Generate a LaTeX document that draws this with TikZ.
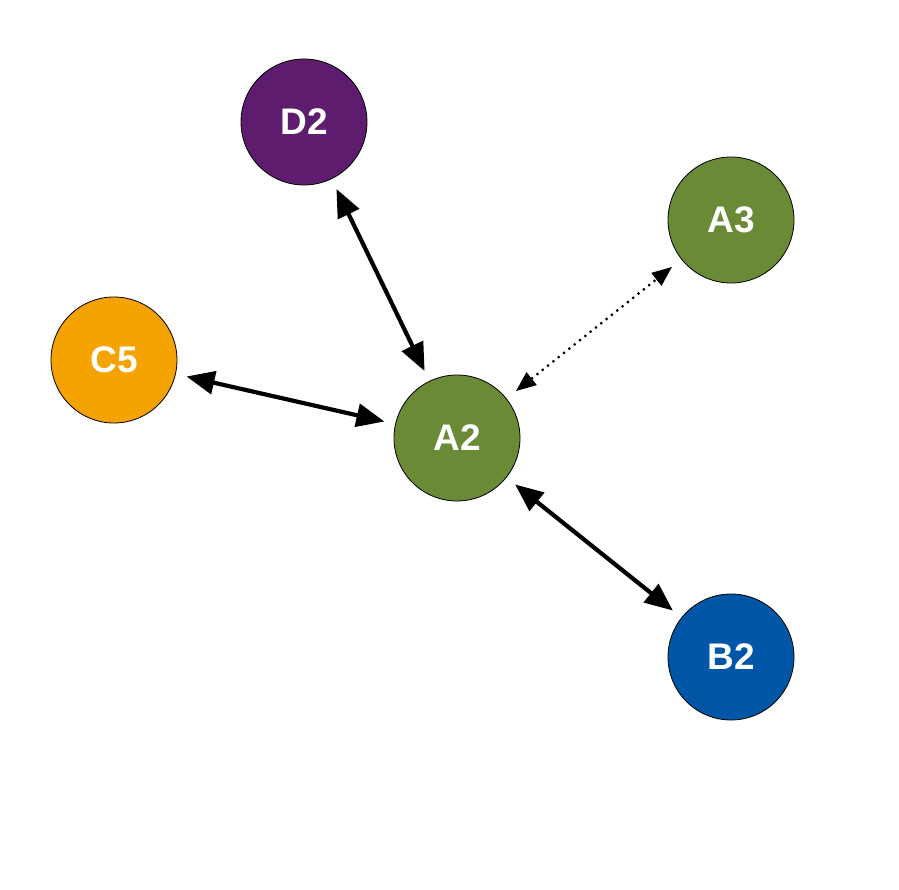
\documentclass[tikz,border=0pt]{standalone}
\usepackage{fontspec}
\setmainfont{Liberation Sans}
\usetikzlibrary{arrows.meta}
\definecolor{cpurple}{HTML}{5E1C6E}
\definecolor{cgreen}{HTML}{6A8A36}
\definecolor{corange}{HTML}{F4A300}
\definecolor{cblue}{HTML}{0056A6}
\tikzset{
  ball/.style={circle, draw=black, line width=0.8pt, minimum size=126pt, inner sep=0pt,
    text=white, font=\fontsize{37}{37}\selectfont\bfseries},
  link/.style={line width=4.2pt, {Triangle[length=28pt,width=23pt]}-{Triangle[length=28pt,width=23pt]}, shorten <=11pt, shorten >=11pt},
  dlink/.style={line width=2.2pt, dash pattern=on 2.2pt off 4.6pt, {Triangle[length=20pt,width=16pt]}-{Triangle[length=20pt,width=16pt]}, shorten <=12pt, shorten >=12pt}
}
\begin{document}
\begin{tikzpicture}[x=1pt,y=-1pt]
\useasboundingbox (0,0) rectangle (899,890);
\node[ball, fill=cpurple] (D2) at (304,122) {D2};
\node[ball, fill=cgreen] (A3) at (731,220) {A3};
\node[ball, fill=corange] (C5) at (114,360) {C5};
\node[ball, fill=cgreen] (A2) at (457,438) {A2};
\node[ball, fill=cblue] (B2) at (731,657) {B2};
\draw[link] (D2) -- (A2);
\draw[link] (C5) -- (A2);
\draw[link] (A2) -- (B2);
\draw[dlink] (A2) -- (A3);
\end{tikzpicture}
\end{document}
